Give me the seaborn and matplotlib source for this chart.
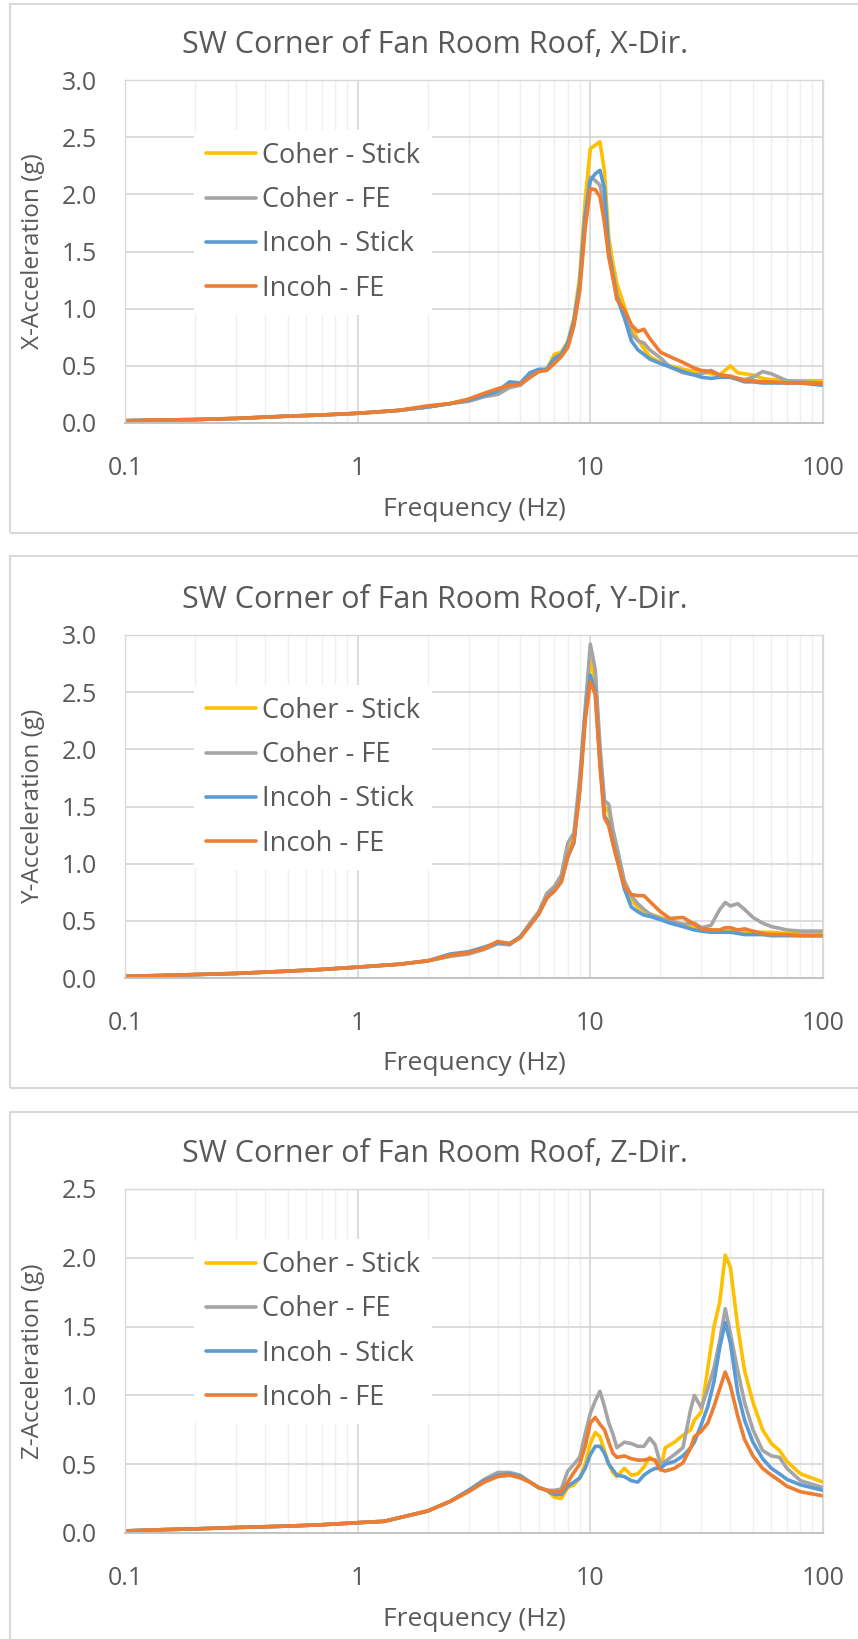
import matplotlib
matplotlib.use('Agg')
import matplotlib.pyplot as plt
from matplotlib.patches import Rectangle
from matplotlib.ticker import LogLocator, NullFormatter, FormatStrFormatter
import seaborn as sns
import pandas as pd

# ######################################################## data

series_names = ['Coher - Stick', 'Coher - FE', 'Incoh - Stick', 'Incoh - FE']
series_colors = ['#FFC000', '#A5A5A5', '#5B9BD5', '#ED7D31']
freq_ticks = [0.1, 1, 10, 100]
freq_tick_labels = ['0.1', '1', '10', '100']

# X-direction
freq_x = [0.1, 0.13, 0.2, 0.3, 0.5, 0.7, 1.0, 1.5, 2.0, 2.5, 3.0,
          3.5, 4.0, 4.5, 5.0, 5.5, 6.0, 6.5, 7.0, 7.5, 8.0, 8.5, 9.0, 9.5,
          10.0, 10.5, 11.0, 11.5, 12.0, 12.5, 13.0, 14.0, 15.0, 16.0, 17.0, 18.0,
          20.0, 22.0, 25.0, 28.0, 30.0, 33.0, 36.0, 40.0, 43.0, 46.0, 50.0, 55.0, 60.0,
          70.0, 80.0, 100.0]
x_coh_stick = [0.02, 0.025, 0.03, 0.04, 0.06, 0.07, 0.085, 0.11, 0.14, 0.17, 0.20,
               0.24, 0.27, 0.33, 0.34, 0.41, 0.46, 0.47, 0.60, 0.62, 0.71, 0.92, 1.28, 1.95,
               2.40, 2.43, 2.46, 2.20, 1.62, 1.40, 1.22, 1.02, 0.84, 0.73, 0.65, 0.58,
               0.53, 0.50, 0.47, 0.45, 0.45, 0.43, 0.42, 0.50, 0.44, 0.43, 0.42, 0.39, 0.38,
               0.37, 0.37, 0.37]
x_coh_fe = [0.02, 0.025, 0.03, 0.04, 0.06, 0.07, 0.085, 0.11, 0.14, 0.17, 0.19,
            0.23, 0.25, 0.31, 0.33, 0.40, 0.45, 0.47, 0.57, 0.60, 0.70, 0.90, 1.22, 1.82,
            2.15, 2.12, 2.08, 1.90, 1.50, 1.30, 1.12, 0.95, 0.78, 0.72, 0.70, 0.64,
            0.57, 0.49, 0.44, 0.42, 0.43, 0.46, 0.42, 0.40, 0.39, 0.38, 0.40, 0.45, 0.43,
            0.37, 0.36, 0.35]
x_inc_stick = [0.02, 0.025, 0.03, 0.04, 0.06, 0.07, 0.085, 0.11, 0.14, 0.17, 0.20,
               0.24, 0.28, 0.36, 0.35, 0.44, 0.47, 0.47, 0.56, 0.60, 0.70, 0.88, 1.20, 1.80,
               2.12, 2.18, 2.21, 2.05, 1.50, 1.30, 1.10, 0.92, 0.72, 0.64, 0.60, 0.56,
               0.52, 0.49, 0.45, 0.42, 0.40, 0.39, 0.40, 0.40, 0.38, 0.36, 0.36, 0.35, 0.35,
               0.35, 0.35, 0.33]
x_inc_fe = [0.02, 0.025, 0.03, 0.04, 0.06, 0.07, 0.085, 0.11, 0.15, 0.17, 0.21,
            0.26, 0.30, 0.33, 0.34, 0.40, 0.45, 0.46, 0.52, 0.58, 0.66, 0.85, 1.15, 1.70,
            2.05, 2.04, 1.98, 1.75, 1.45, 1.27, 1.08, 0.99, 0.86, 0.80, 0.82, 0.74,
            0.62, 0.58, 0.53, 0.48, 0.46, 0.45, 0.42, 0.41, 0.39, 0.37, 0.37, 0.36, 0.36,
            0.35, 0.35, 0.345]

# Y-direction
freq_y = [0.1, 0.13, 0.2, 0.3, 0.5, 0.7, 1.0, 1.5, 2.0, 2.5, 3.0,
          3.5, 4.0, 4.5, 5.0, 5.5, 6.0, 6.5, 7.0, 7.5, 8.0, 8.5, 9.0, 9.5,
          10.0, 10.5, 11.0, 11.5, 12.0, 12.5, 13.0, 14.0, 15.0, 16.0, 17.0, 18.0,
          20.0, 22.0, 25.0, 28.0, 30.0, 33.0, 36.0, 38.0, 40.0, 43.0, 46.0, 50.0, 55.0, 60.0,
          70.0, 80.0, 100.0]
y_coh_stick = [0.015, 0.02, 0.03, 0.04, 0.06, 0.075, 0.095, 0.12, 0.15, 0.19, 0.22,
               0.26, 0.31, 0.30, 0.36, 0.47, 0.57, 0.70, 0.77, 0.86, 1.10, 1.22, 1.68, 2.30,
               2.78, 2.60, 1.95, 1.50, 1.45, 1.25, 1.10, 0.82, 0.68, 0.62, 0.58, 0.56,
               0.53, 0.50, 0.47, 0.44, 0.42, 0.42, 0.41, 0.41, 0.41, 0.41, 0.40, 0.40, 0.40, 0.40,
               0.39, 0.39, 0.39]
y_coh_fe = [0.015, 0.02, 0.03, 0.04, 0.06, 0.075, 0.095, 0.12, 0.15, 0.19, 0.21,
            0.25, 0.30, 0.29, 0.36, 0.48, 0.58, 0.74, 0.80, 0.90, 1.18, 1.27, 1.75, 2.35,
            2.92, 2.70, 2.03, 1.55, 1.52, 1.30, 1.15, 0.85, 0.72, 0.65, 0.60, 0.56,
            0.52, 0.50, 0.47, 0.48, 0.44, 0.46, 0.60, 0.66, 0.63, 0.65, 0.60, 0.53, 0.48, 0.45,
            0.42, 0.41, 0.41]
y_inc_stick = [0.015, 0.02, 0.03, 0.04, 0.06, 0.075, 0.095, 0.12, 0.15, 0.21, 0.23,
               0.27, 0.31, 0.30, 0.36, 0.46, 0.56, 0.70, 0.76, 0.84, 1.06, 1.18, 1.65, 2.30,
               2.65, 2.50, 1.90, 1.42, 1.35, 1.18, 1.05, 0.78, 0.62, 0.58, 0.55, 0.54,
               0.51, 0.48, 0.45, 0.42, 0.41, 0.40, 0.40, 0.40, 0.40, 0.39, 0.38, 0.38, 0.38, 0.37,
               0.37, 0.37, 0.37]
y_inc_fe = [0.015, 0.02, 0.03, 0.04, 0.06, 0.075, 0.095, 0.12, 0.15, 0.20, 0.22,
            0.26, 0.32, 0.30, 0.35, 0.46, 0.56, 0.70, 0.76, 0.84, 1.06, 1.20, 1.62, 2.25,
            2.59, 2.48, 1.85, 1.40, 1.33, 1.18, 1.04, 0.80, 0.73, 0.72, 0.72, 0.67,
            0.58, 0.52, 0.53, 0.47, 0.43, 0.42, 0.42, 0.44, 0.44, 0.42, 0.43, 0.41, 0.39, 0.38,
            0.38, 0.37, 0.37]

# Z-direction
freq_z = [0.1, 0.15, 0.2, 0.3, 0.5, 0.7, 1.0, 1.3, 1.5, 2.0, 2.5, 3.0,
          3.5, 4.0, 4.5, 5.0, 5.5, 6.0, 6.5, 7.0, 7.5, 8.0, 8.5, 9.0, 9.5,
          10.0, 10.5, 11.0, 11.5, 12.0, 12.5, 13.0, 14.0, 15.0, 16.0, 17.0, 18.0, 19.0,
          20.0, 21.0, 23.0, 25.0, 27.0, 28.0, 30.0, 32.0, 34.0, 36.0, 38.0, 40.0, 43.0, 46.0,
          50.0, 55.0, 60.0, 65.0, 70.0, 80.0, 100.0]
z_coh_stick = [0.015, 0.025, 0.03, 0.04, 0.05, 0.06, 0.075, 0.085, 0.11, 0.16, 0.23, 0.31,
               0.38, 0.42, 0.43, 0.41, 0.37, 0.33, 0.31, 0.26, 0.25, 0.33, 0.35, 0.40, 0.50,
               0.65, 0.73, 0.70, 0.60, 0.50, 0.44, 0.41, 0.47, 0.42, 0.43, 0.48, 0.55, 0.52,
               0.46, 0.62, 0.66, 0.71, 0.75, 0.82, 0.88, 1.20, 1.50, 1.68, 2.02, 1.93, 1.50, 1.18,
               0.95, 0.75, 0.65, 0.60, 0.52, 0.43, 0.37]
z_coh_fe = [0.015, 0.025, 0.03, 0.04, 0.05, 0.06, 0.075, 0.085, 0.11, 0.16, 0.23, 0.31,
            0.39, 0.44, 0.44, 0.42, 0.37, 0.33, 0.31, 0.31, 0.32, 0.45, 0.50, 0.55, 0.72,
            0.87, 0.96, 1.03, 0.92, 0.80, 0.72, 0.62, 0.66, 0.65, 0.63, 0.63, 0.69, 0.64,
            0.50, 0.52, 0.57, 0.62, 0.90, 1.00, 0.91, 1.05, 1.20, 1.40, 1.63, 1.45, 1.18, 0.95,
            0.75, 0.60, 0.56, 0.55, 0.47, 0.38, 0.33]
z_inc_stick = [0.015, 0.025, 0.03, 0.04, 0.05, 0.06, 0.075, 0.085, 0.11, 0.16, 0.23, 0.31,
               0.38, 0.42, 0.43, 0.41, 0.37, 0.33, 0.31, 0.28, 0.28, 0.34, 0.37, 0.40, 0.47,
               0.57, 0.63, 0.63, 0.58, 0.50, 0.46, 0.42, 0.41, 0.38, 0.37, 0.42, 0.45, 0.47,
               0.47, 0.50, 0.52, 0.56, 0.62, 0.66, 0.79, 0.92, 1.10, 1.35, 1.53, 1.38, 1.02, 0.82,
               0.66, 0.54, 0.47, 0.43, 0.39, 0.35, 0.31]
z_inc_fe = [0.015, 0.025, 0.03, 0.04, 0.05, 0.06, 0.075, 0.085, 0.11, 0.16, 0.23, 0.30,
            0.37, 0.41, 0.42, 0.40, 0.37, 0.33, 0.31, 0.30, 0.30, 0.37, 0.44, 0.50, 0.63,
            0.80, 0.84, 0.79, 0.75, 0.66, 0.58, 0.55, 0.56, 0.54, 0.53, 0.53, 0.54, 0.53,
            0.46, 0.45, 0.47, 0.51, 0.62, 0.70, 0.74, 0.80, 0.92, 1.05, 1.17, 1.07, 0.85, 0.68,
            0.56, 0.47, 0.42, 0.38, 0.34, 0.30, 0.27]

panels = [
    {'title': 'SW Corner of Fan Room Roof, X-Dir.', 'ylabel': 'X-Acceleration (g)',
     'freq': freq_x, 'values': [x_coh_stick, x_coh_fe, x_inc_stick, x_inc_fe], 'ymax': 3.0,
     'box': (4, 533), 'ax_top': 80, 'ax_bottom': 423},
    {'title': 'SW Corner of Fan Room Roof, Y-Dir.', 'ylabel': 'Y-Acceleration (g)',
     'freq': freq_y, 'values': [y_coh_stick, y_coh_fe, y_inc_stick, y_inc_fe], 'ymax': 3.0,
     'box': (556, 1088), 'ax_top': 635, 'ax_bottom': 978},
    {'title': 'SW Corner of Fan Room Roof, Z-Dir.', 'ylabel': 'Z-Acceleration (g)',
     'freq': freq_z, 'values': [z_coh_stick, z_coh_fe, z_inc_stick, z_inc_fe], 'ymax': 2.5,
     'box': (1112, 1660), 'ax_top': 1189, 'ax_bottom': 1533},
]

# ######################################################## figure

W, H = 858, 1639
TEXT = '#595959'

sns.set_theme(style='white')
plt.rcParams['font.family'] = ['Open Sans', 'DejaVu Sans']

fig = plt.figure(figsize=(W / 100, H / 100), dpi=100)
fig.patch.set_facecolor('white')

ax_left, ax_right = 125, 823

for p in panels:
    top, bottom = p['box']
    fig.add_artist(Rectangle((10 / W, 1 - bottom / H), 2.0, (bottom - top) / H,
                             transform=fig.transFigure, fill=False,
                             edgecolor='#D9D9D9', linewidth=1.5))

    ax = fig.add_axes([ax_left / W, 1 - p['ax_bottom'] / H,
                       (ax_right - ax_left) / W, (p['ax_bottom'] - p['ax_top']) / H])

    rows = []
    for name, vals in zip(series_names, p['values']):
        rows.append(pd.DataFrame({'freq': p['freq'], 'acc': vals, 'series': name}))
    df = pd.concat(rows, ignore_index=True)

    sns.lineplot(data=df, x='freq', y='acc', hue='series', hue_order=series_names,
                 palette=series_colors, estimator=None, sort=False, errorbar=None,
                 linewidth=2.6, ax=ax)

    ax.set_xscale('log')
    ax.set_xlim(0.1, 100)
    ax.set_ylim(0, p['ymax'])
    ax.set_yticks([i * 0.5 for i in range(int(p['ymax'] / 0.5) + 1)])
    ax.yaxis.set_major_formatter(FormatStrFormatter('%.1f'))
    ax.set_xticks(freq_ticks, labels=freq_tick_labels)
    ax.xaxis.set_minor_locator(LogLocator(base=10, subs=range(2, 10)))
    ax.xaxis.set_minor_formatter(NullFormatter())
    ax.tick_params(which='both', length=0, labelsize=18, colors=TEXT)
    ax.tick_params(axis='y', pad=20)
    ax.tick_params(axis='x', pad=24)

    ax.set_axisbelow(True)
    ax.grid(which='major', axis='both', color='#D9D9D9', linewidth=1.3)
    ax.grid(which='minor', axis='x', color='#EFEFEF', linewidth=1.0)
    for side in ['left', 'top', 'right']:
        ax.spines[side].set_color('#D9D9D9')
        ax.spines[side].set_linewidth(1.0)
    ax.spines['bottom'].set_color('#BFBFBF')
    ax.spines['bottom'].set_linewidth(1.3)

    ax.set_xlabel('')
    ax.set_ylabel('')
    handles, labels = ax.get_legend_handles_labels()
    ax.legend(handles, labels, loc='upper left', bbox_to_anchor=(0.099, 0.855),
              frameon=True, facecolor='white', edgecolor='none', framealpha=1.0,
              fontsize=19.5, labelcolor=TEXT, handlelength=1.85, handletextpad=0.2,
              labelspacing=0.6, borderpad=0.45, borderaxespad=0)

    mid_y = (p['ax_top'] + p['ax_bottom']) / 2
    fig.text(435 / W, 1 - (p['ax_top'] - 35) / H, p['title'], ha='center', va='center',
             fontsize=22, color=TEXT)
    fig.text(33 / W, 1 - mid_y / H, p['ylabel'], rotation=90, ha='center', va='center',
             fontsize=17.5, color=TEXT)
    fig.text((ax_left + ax_right) / 2 / W, 1 - (p['ax_bottom'] + 86) / H, 'Frequency (Hz)',
             ha='center', va='center', fontsize=19, color=TEXT)

fig.savefig('out.png', dpi=100, facecolor='white')
